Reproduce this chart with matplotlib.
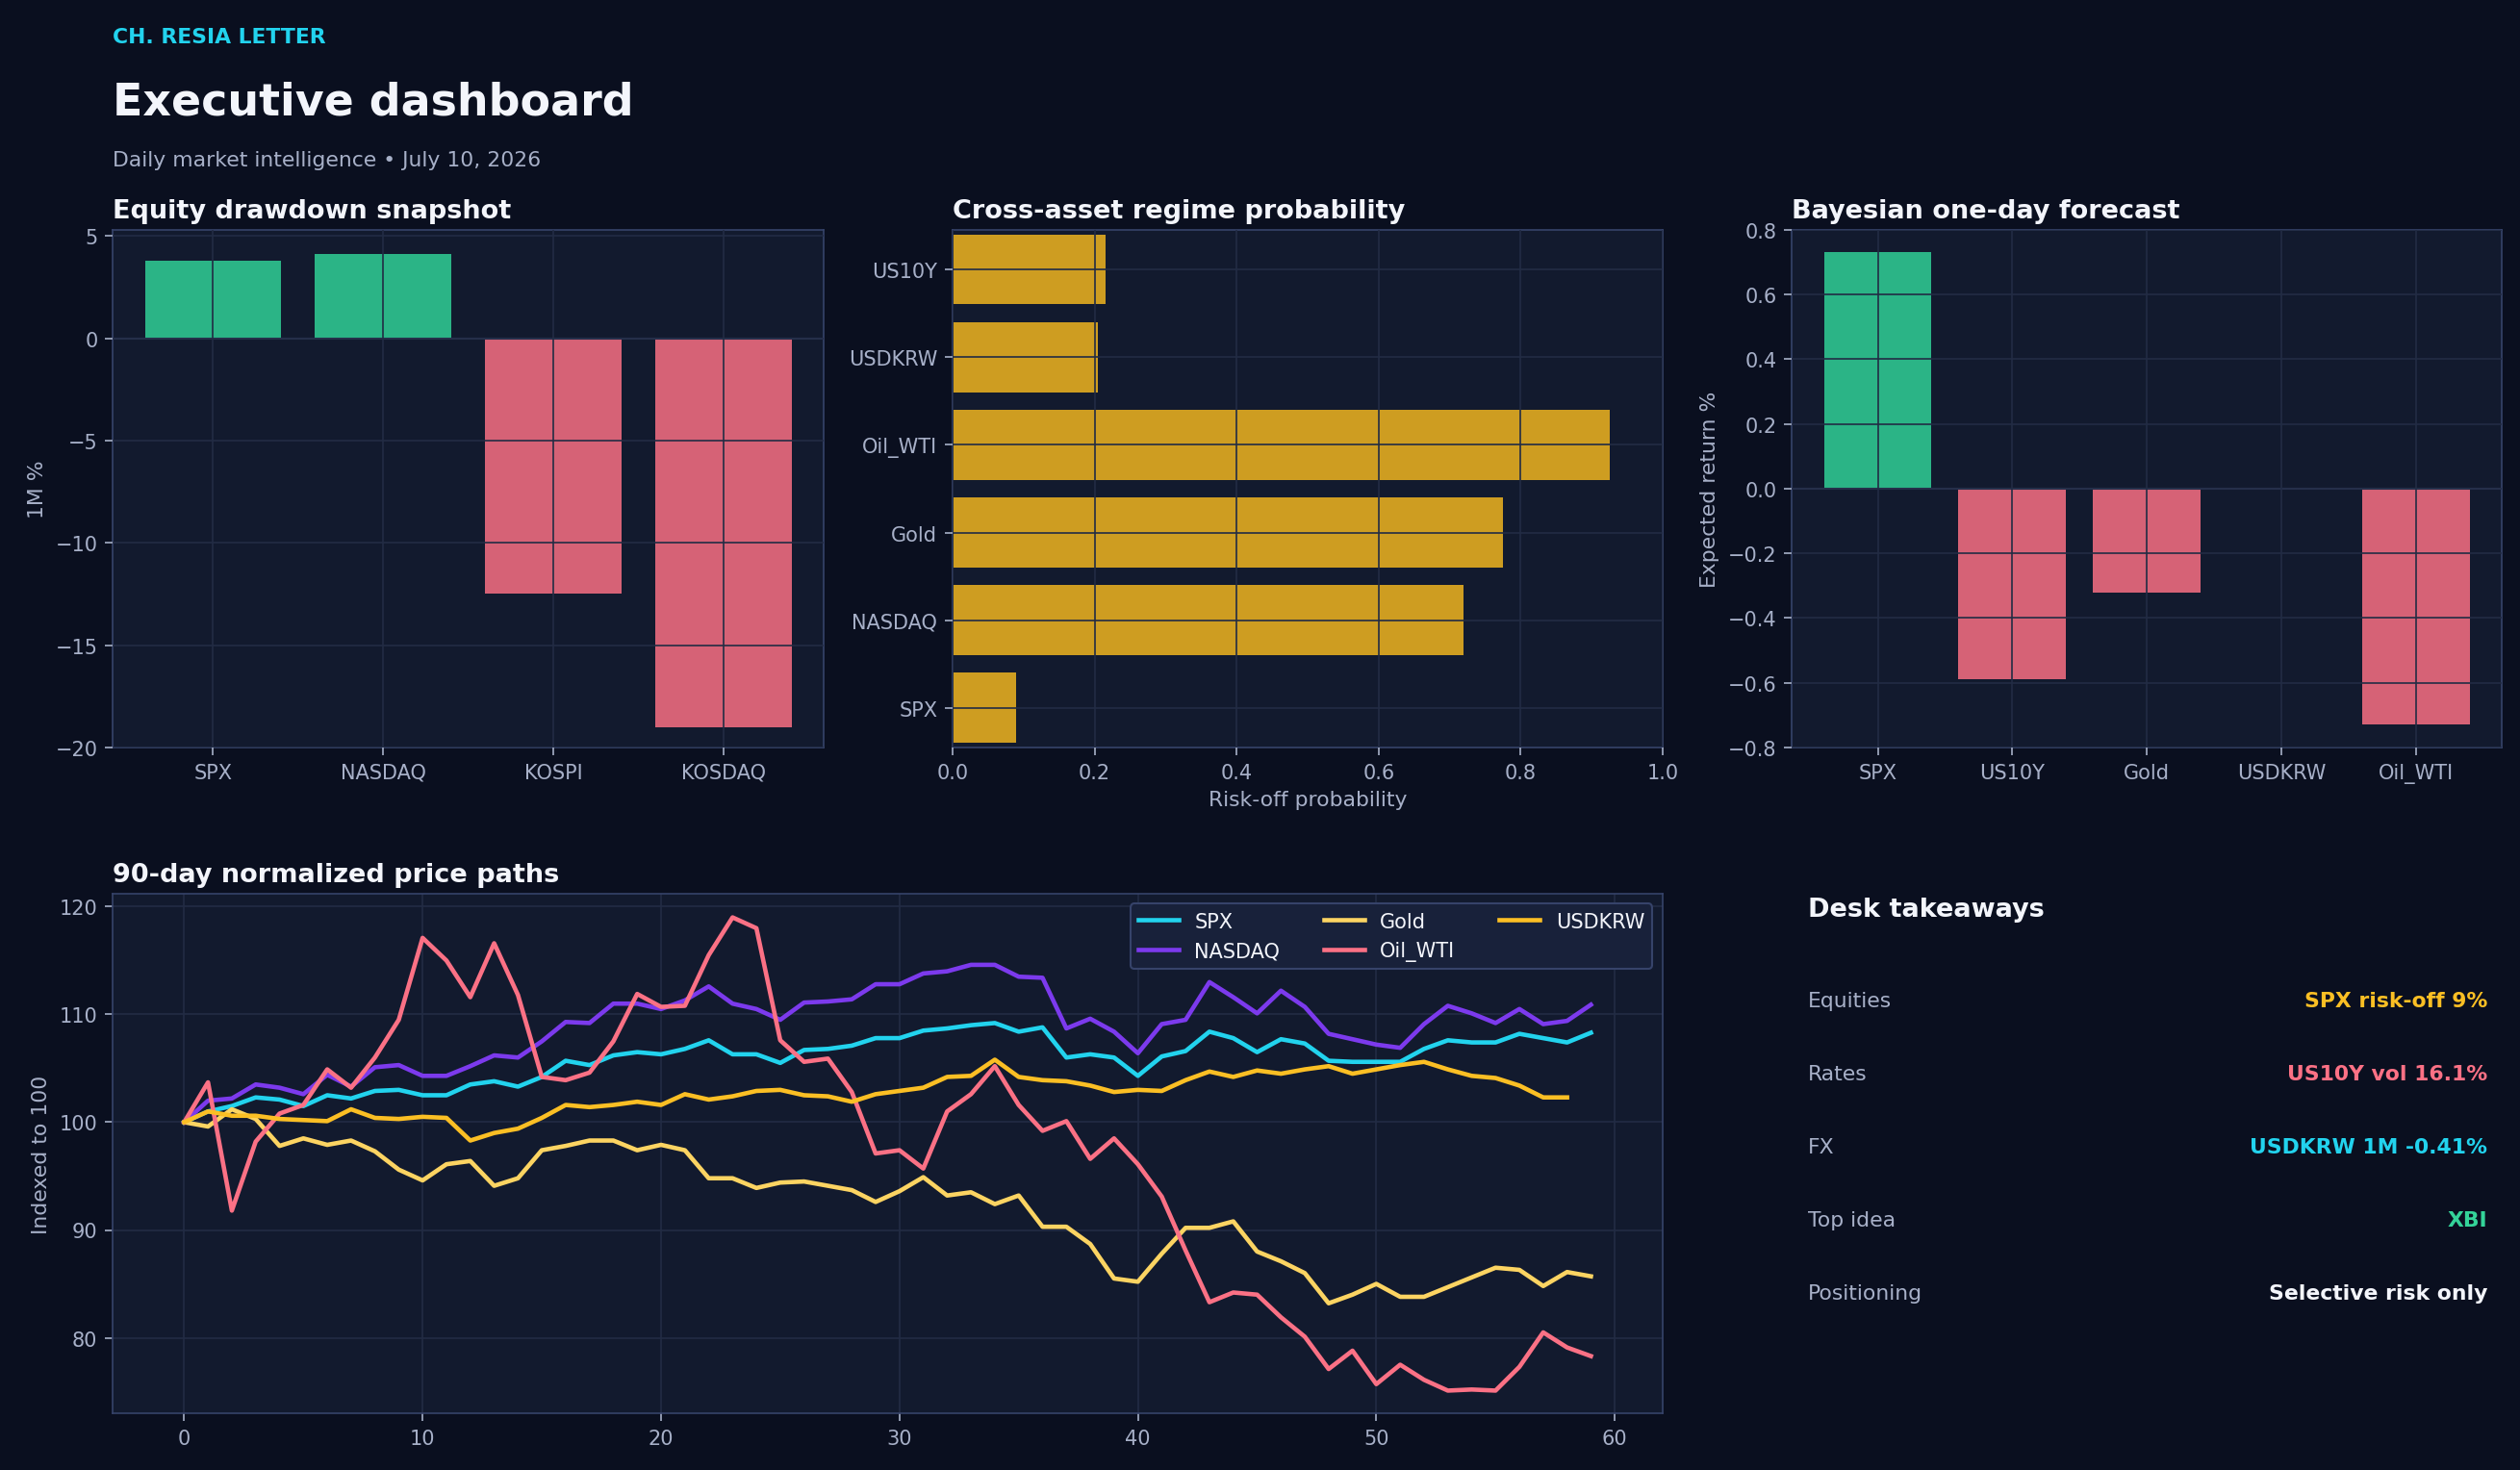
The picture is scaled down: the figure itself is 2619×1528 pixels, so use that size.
import matplotlib
matplotlib.use("Agg")
import matplotlib.pyplot as plt
import numpy as np

# ---------------------------------------------------------------------------
# Data
# ---------------------------------------------------------------------------
DD_NAMES = ["SPX", "NASDAQ", "KOSPI", "KOSDAQ"]
DD_VALUES = [3.8, 4.1, -12.5, -19.0]

REGIME_NAMES = ["SPX", "NASDAQ", "Gold", "Oil_WTI", "USDKRW", "US10Y"]
REGIME_PROBS = [0.09, 0.72, 0.775, 0.925, 0.205, 0.215]

FC_NAMES = ["SPX", "US10Y", "Gold", "USDKRW", "Oil_WTI"]
FC_VALUES = [0.73, -0.59, -0.32, 0.0, -0.73]

SPX = [100, 101, 101.5, 102.3, 102.1, 101.5, 102.5, 102.2, 102.9, 103, 102.5, 102.5,
       103.5, 103.8, 103.3, 104.2, 105.7, 105.3, 106.2, 106.5, 106.3, 106.8, 107.6,
       106.3, 106.3, 105.5, 106.7, 106.8, 107.1, 107.8, 107.8, 108.5, 108.7, 109,
       109.2, 108.4, 108.8, 106, 106.3, 106, 104.3, 106.1, 106.6, 108.4, 107.8, 106.5,
       107.7, 107.3, 105.7, 105.6, 105.6, 105.6, 106.8, 107.6, 107.4, 107.4, 108.2,
       107.8, 107.4, 108.3]
NASDAQ = [100, 102, 102.2, 103.5, 103.2, 102.6, 104.4, 103.3, 105.1, 105.3, 104.3,
          104.3, 105.2, 106.2, 106, 107.5, 109.3, 109.2, 111, 111, 110.5, 111.3, 112.6,
          111, 110.5, 109.5, 111.1, 111.2, 111.4, 112.8, 112.8, 113.8, 114, 114.6,
          114.6, 113.5, 113.4, 108.7, 109.6, 108.4, 106.4, 109.1, 109.5, 113, 111.6,
          110.1, 112.2, 110.7, 108.2, 107.7, 107.2, 106.9, 109.1, 110.8, 110.1, 109.2,
          110.5, 109.1, 109.4, 110.9]
GOLD = [100, 99.6, 101.2, 100.3, 97.8, 98.5, 97.9, 98.3, 97.3, 95.6, 94.6, 96.1, 96.4,
        94.1, 94.8, 97.4, 97.8, 98.3, 98.3, 97.4, 97.9, 97.4, 94.8, 94.8, 93.9, 94.4,
        94.5, 94.1, 93.7, 92.6, 93.6, 94.9, 93.2, 93.5, 92.4, 93.2, 90.3, 90.3, 88.7,
        85.5, 85.2, 87.8, 90.2, 90.2, 90.8, 88, 87.1, 86, 83.2, 84, 85, 83.8, 83.8,
        84.7, 85.6, 86.5, 86.3, 84.8, 86.1, 85.7]
OIL = [100, 103.7, 91.8, 98.2, 100.8, 101.6, 104.9, 103.2, 106, 109.5, 117.1, 115,
       111.6, 116.6, 111.8, 104.2, 103.9, 104.6, 107.5, 111.9, 110.7, 110.8, 115.5, 119,
       118, 107.6, 105.6, 105.9, 102.8, 97.1, 97.4, 95.7, 101, 102.6, 105.2, 101.6,
       99.2, 100.1, 96.6, 98.5, 96.1, 93.1, 88.1, 83.3, 84.2, 84, 81.9, 80.1, 77.1,
       78.8, 75.7, 77.5, 76.1, 75.1, 75.2, 75.1, 77.3, 80.5, 79.1, 78.3]
USDKRW = [100, 101, 100.6, 100.6, 100.3, 100.2, 100.1, 101.2, 100.4, 100.3, 100.5,
          100.4, 98.3, 99, 99.4, 100.4, 101.6, 101.4, 101.6, 101.9, 101.6, 102.6, 102.1,
          102.4, 102.9, 103, 102.5, 102.4, 101.9, 102.6, 102.9, 103.2, 104.2, 104.3,
          105.8, 104.2, 103.9, 103.8, 103.4, 102.8, 103, 102.9, 103.9, 104.7, 104.2,
          104.8, 104.5, 104.9, 105.2, 104.5, 104.9, 105.3, 105.6, 104.9, 104.3, 104.1,
          103.4, 102.3, 102.3]

TAKE_LABELS = ["Equities", "Rates", "FX", "Top idea", "Positioning"]
TAKE_VALUES = ["SPX risk-off 9%", "US10Y vol 16.1%", "USDKRW 1M -0.41%", "XBI",
               "Selective risk only"]

# ---------------------------------------------------------------------------
# Style
# ---------------------------------------------------------------------------
BG = "#0a0f1f"
PANEL = "#121a2e"
SPINE = "#36436a"
GRID = "#222c44"
TICK = "#a7b0c8"
GREEN = "#2ec28e"
RED = "#e8697d"
GOLDBAR = "#d9a521"
TAKE_COLORS = ["#fbbf24", "#fb7185", "#22d3ee", "#34d399", "#f3f5fb"]

plt.rcParams["font.family"] = ["DejaVu Sans"]
fig = plt.figure(figsize=(17.46, 10.193), dpi=150, facecolor=BG)


def style_ax(ax):
    ax.set_facecolor(PANEL)
    for s in ax.spines.values():
        s.set_color(SPINE)
    ax.tick_params(colors=TICK, labelsize=10, length=4)
    ax.grid(True, color=GRID, linewidth=0.8)
    ax.set_axisbelow(False)


def panel_title(ax, text):
    ax.set_title(text, loc="left", color="#f3f5fb", fontsize=13,
                 fontweight="bold", pad=6)


# Header
fig.text(0.0447, 0.981, "CH. RESIA LETTER", color="#22d3ee", fontsize=10.5,
         fontweight="bold", va="top")
fig.text(0.0447, 0.945, "Executive dashboard", color="#f3f5fb", fontsize=22,
         fontweight="bold", va="top")
fig.text(0.0447, 0.897, "Daily market intelligence \u2022 July 10, 2026",
         color=TICK, fontsize=10.5, va="top")

# Equity drawdown
ax1 = fig.add_axes([0.0447, 0.4912, 0.2822, 0.3519])
style_ax(ax1)
x = np.arange(len(DD_NAMES))
ax1.bar(x, DD_VALUES, width=0.8, alpha=0.92,
        color=[GREEN if v >= 0 else RED for v in DD_VALUES], zorder=1)
ax1.axhline(0, color=SPINE, linewidth=1)
ax1.set_xticks(x, DD_NAMES)
ax1.set_ylim(-20, 5.3)
ax1.set_ylabel("1M %", color=TICK, fontsize=10.5)
panel_title(ax1, "Equity drawdown snapshot")

# Regime probability
ax2 = fig.add_axes([0.378, 0.4912, 0.2818, 0.3519])
style_ax(ax2)
y = np.arange(len(REGIME_NAMES))
ax2.barh(y, REGIME_PROBS, height=0.8, color=GOLDBAR, alpha=0.95, zorder=1)
ax2.set_yticks(y, REGIME_NAMES)
ax2.set_xlim(0, 1)
ax2.set_ylim(-0.45, 5.45)
ax2.set_xlabel("Risk-off probability", color=TICK, fontsize=10.5)
panel_title(ax2, "Cross-asset regime probability")

# Bayesian forecast
ax3 = fig.add_axes([0.711, 0.4912, 0.2818, 0.3519])
style_ax(ax3)
x = np.arange(len(FC_NAMES))
ax3.bar(x, FC_VALUES, width=0.8, alpha=0.92,
        color=[GREEN if v >= 0 else RED for v in FC_VALUES], zorder=1)
ax3.axhline(0, color=SPINE, linewidth=1)
ax3.set_xticks(x, FC_NAMES)
ax3.set_ylim(-0.8, 0.8)
ax3.set_ylabel("Expected return %", color=TICK, fontsize=10.5)
panel_title(ax3, "Bayesian one-day forecast")

# Price paths
ax4 = fig.add_axes([0.0447, 0.0386, 0.6150, 0.3532])
style_ax(ax4)
ax4.set_axisbelow(True)
series = [("SPX", SPX, "#22d3ee"), ("NASDAQ", NASDAQ, "#7c3aed"),
          ("Gold", GOLD, "#fcd462"), ("Oil_WTI", OIL, "#fb7185"),
          ("USDKRW", USDKRW, "#fbbf24")]
for name, vals, col in series:
    ax4.plot(np.arange(len(vals)), vals, color=col, linewidth=2.2, label=name)
ax4.set_xlim(-3, 62)
ax4.set_ylim(73, 121.2)
ax4.set_ylabel("Indexed to 100", color=TICK, fontsize=10.5)
leg = ax4.legend(ncol=3, loc="upper right", fontsize=10, facecolor="#18213a",
                 edgecolor=SPINE, labelcolor="#f3f5fb", framealpha=1,
                 columnspacing=2.2)
panel_title(ax4, "90-day normalized price paths")

# Desk takeaways
fig.text(0.7175, 0.381, "Desk takeaways", color="#f3f5fb", fontsize=13,
         fontweight="bold", va="center")
for i, (lab, val) in enumerate(zip(TAKE_LABELS, TAKE_VALUES)):
    yy = 0.319 - i * 0.0496
    fig.text(0.7175, yy, lab, color=TICK, fontsize=10.5, va="center")
    fig.text(0.987, yy, val, color=TAKE_COLORS[i], fontsize=10.5,
             fontweight="bold", va="center", ha="right")

fig.savefig("out.png", dpi=150, facecolor=BG)
